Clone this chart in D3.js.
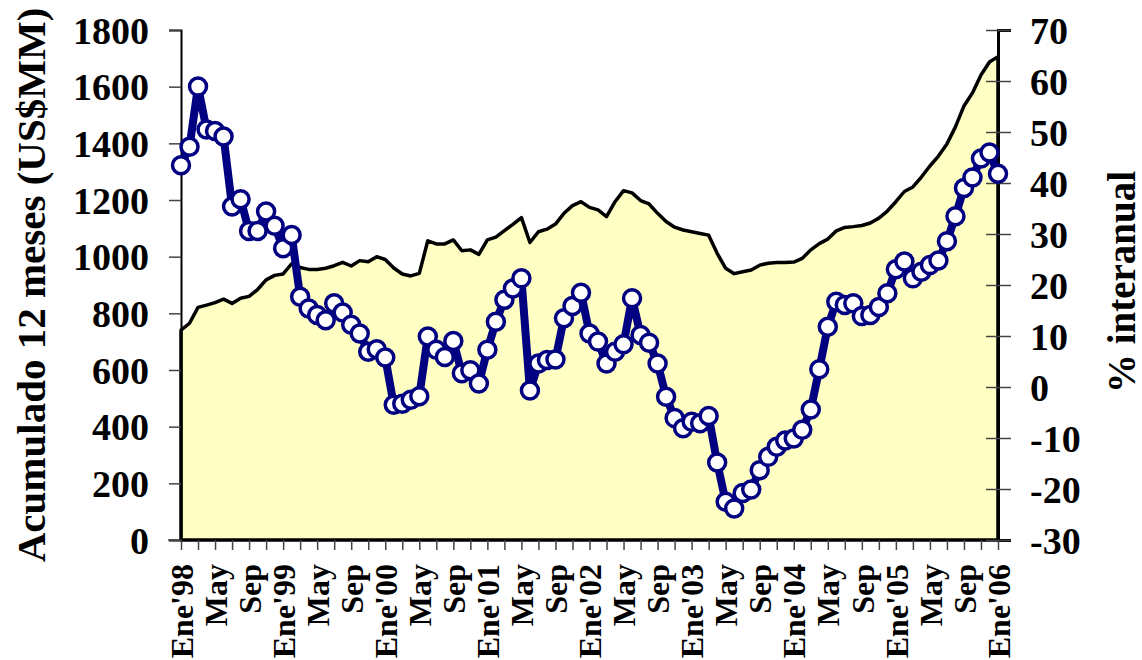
<!DOCTYPE html>
<html>
<head>
<meta charset="utf-8">
<script src="https://cdn.jsdelivr.net/npm/d3@7"></script>
<style>
  body { margin: 0; background: #fff; }
  svg text { font-family: "Liberation Serif", "Times New Roman", serif; font-weight: bold; fill: #000; }
</style>
</head>
<body>
<svg id="chart" width="1142" height="660"></svg>
<script>
// month names and years for the category axis
var monthNames = ["Ene", "Feb", "Mar", "Abr", "May", "Jun", "Jul", "Ago", "Sep", "Oct", "Nov", "Dic"];
var years = ["98", "99", "00", "01", "02", "03", "04", "05", "06"];

// accumulated 12 months (US$MM), Ene'98 .. Ene'06
var acumulado = [
  741, 765, 821, 829, 838, 850, 835, 853, 860, 884, 918, 934,
  939, 975, 962, 955, 955, 959, 968, 980, 967, 986, 982, 1000,
  990, 960, 939, 932, 941, 1056, 1045, 1045, 1059, 1021, 1024, 1008,
  1059, 1069, 1092, 1114, 1138, 1050, 1088, 1097, 1115, 1153, 1180, 1194,
  1174, 1165, 1141, 1194, 1233, 1225, 1198, 1186, 1153, 1124, 1104, 1094,
  1088, 1082, 1076, 1012, 959, 940, 947, 953, 970, 977, 979, 979,
  981, 994, 1024, 1046, 1062, 1091, 1103, 1106, 1110, 1119, 1136, 1161,
  1194, 1230, 1246, 1281, 1320, 1355, 1398, 1458, 1532, 1578, 1641, 1687,
  1706
];

// % interanual
var interanual = [
  43.5, 47.1, 58.9, 50.5, 50.2, 49.1, 35.4, 36.8, 30.6, 30.6, 34.4, 31.6,
  27.2, 29.8, 17.7, 15.4, 14.1, 13.1, 16.4, 14.6, 12.2, 10.5, 6.9, 7.4,
  5.8, -3.5, -3.3, -2.5, -1.8, 9.9, 7.3, 5.9, 9.0, 2.7, 3.3, 0.7,
  7.3, 12.8, 17.1, 19.3, 21.3, -0.7, 4.6, 5.3, 5.4, 13.5, 15.9, 18.5,
  10.5, 8.9, 4.6, 6.9, 8.4, 17.4, 10.2, 8.7, 4.6, -1.9, -6.1, -8.1,
  -6.8, -7.1, -5.7, -14.8, -22.5, -23.8, -20.8, -20.1, -16.3, -13.7, -11.7, -10.5,
  -10.1, -8.4, -4.4, 3.5, 11.8, 16.7, 16.1, 16.4, 13.9, 14.1, 15.7, 18.4,
  23.1, 24.6, 21.3, 22.6, 23.9, 24.8, 28.6, 33.5, 39.0, 41.1, 44.8, 46.0,
  41.8
];

var leftTicks = [0, 200, 400, 600, 800, 1000, 1200, 1400, 1600, 1800];
var rightTicks = [-30, -20, -10, 0, 10, 20, 30, 40, 50, 60, 70];

// categories: "Ene'98", "Feb'98", ...
var categories = [];
years.forEach(function(y, yi) {
  monthNames.forEach(function(m, mi) {
    if (yi < years.length - 1 || mi === 0) categories.push(m + "'" + y);
  });
});

var svg = d3.select("#chart");
var plotLeft = 181, plotRight = 998, plotTop = 30, plotBottom = 540;

var x = d3.scalePoint()
    .domain(categories)
    .range([plotLeft, plotRight]);

var yL = d3.scaleLinear()
    .domain([0, 1800])
    .range([plotBottom, plotTop]);

var yR = d3.scaleLinear()
    .domain([-30, 70])
    .range([plotBottom, plotTop]);

var rows = categories.map(function(c, i) {
  return { cat: c, a: acumulado[i], p: interanual[i] };
});

// area series (left axis)
var area = d3.area()
    .x(function(d) { return x(d.cat); })
    .y0(plotBottom)
    .y1(function(d) { return yL(d.a); });

svg.append("path")
    .datum(rows)
    .attr("d", area)
    .attr("fill", "#ffffc4")
    .attr("stroke", "#000")
    .attr("stroke-width", 3.5)
    .attr("stroke-linejoin", "round");

// plain labels, hyphen minus like the original
var plain = function(d) { return String(d); };

// left axis
var axL = svg.append("g")
    .attr("transform", "translate(" + plotLeft + ",0)")
    .call(d3.axisLeft(yL).tickValues(leftTicks).tickFormat(plain).tickSize(12).tickPadding(20));
axL.select(".domain").attr("stroke", "#000").attr("stroke-width", 2);
axL.selectAll(".tick line").attr("stroke", "#444").attr("stroke-width", 1.5);
axL.selectAll(".tick text").attr("font-size", 38).attr("font-family", null).attr("dy", "0.35em");

// right axis, ticks cross the axis line
var axR = svg.append("g")
    .attr("transform", "translate(" + plotRight + ",0)")
    .call(d3.axisRight(yR).tickValues(rightTicks).tickFormat(plain).tickSize(13).tickPadding(19));
axR.select(".domain").attr("stroke", "#000").attr("stroke-width", 3);
axR.selectAll(".tick line").attr("x1", -12).attr("stroke", "#444").attr("stroke-width", 1.5);
axR.selectAll(".tick text").attr("font-size", 38).attr("font-family", null).attr("dy", "0.35em");

// bottom axis: tick every 2 months, label every 4
var axB = svg.append("g")
    .attr("transform", "translate(0," + plotBottom + ")")
    .call(d3.axisBottom(x)
      .tickValues(categories.filter(function(c, i) { return i % 2 === 0; }))
      .tickSize(10)
      .tickFormat(function(c) {
        var i = categories.indexOf(c);
        if (i % 4 !== 0) return "";
        return c.slice(0, 3) === "Ene" ? c : c.slice(0, 3);
      }));
axB.select(".domain").remove();
axB.selectAll(".tick line").attr("stroke", "#444").attr("stroke-width", 1.5);
axB.selectAll(".tick text")
    .attr("font-size", 32)
    .attr("font-family", null)
    .attr("text-anchor", "end")
    .attr("transform", "rotate(-90)")
    .attr("x", -24)
    .attr("y", 0)
    .attr("dy", "0.35em");
svg.append("line")
    .attr("x1", plotLeft - 13).attr("x2", plotLeft)
    .attr("y1", plotBottom).attr("y2", plotBottom)
    .attr("stroke", "#444").attr("stroke-width", 1.5);

// line series (right axis)
var line = d3.line()
    .x(function(d) { return x(d.cat); })
    .y(function(d) { return yR(d.p); });

svg.append("path")
    .datum(rows)
    .attr("d", line)
    .attr("fill", "none")
    .attr("stroke", "#000080")
    .attr("stroke-width", 8)
    .attr("stroke-linejoin", "round");

svg.append("g").selectAll("circle")
    .data(rows)
  .enter().append("circle")
    .attr("cx", function(d) { return x(d.cat); })
    .attr("cy", function(d) { return yR(d.p); })
    .attr("r", 8.5)
    .attr("fill", "#fff")
    .attr("stroke", "#000080")
    .attr("stroke-width", 3.5);

// axis titles
svg.append("text")
    .attr("transform", "translate(45,285) rotate(-90)")
    .attr("text-anchor", "middle")
    .attr("font-size", 41)
    .text("Acumulado 12 meses (US$MM)");

svg.append("text")
    .attr("transform", "translate(1135,282) rotate(-90)")
    .attr("text-anchor", "middle")
    .attr("font-size", 39)
    .text("% interanual");
</script>
</body>
</html>
